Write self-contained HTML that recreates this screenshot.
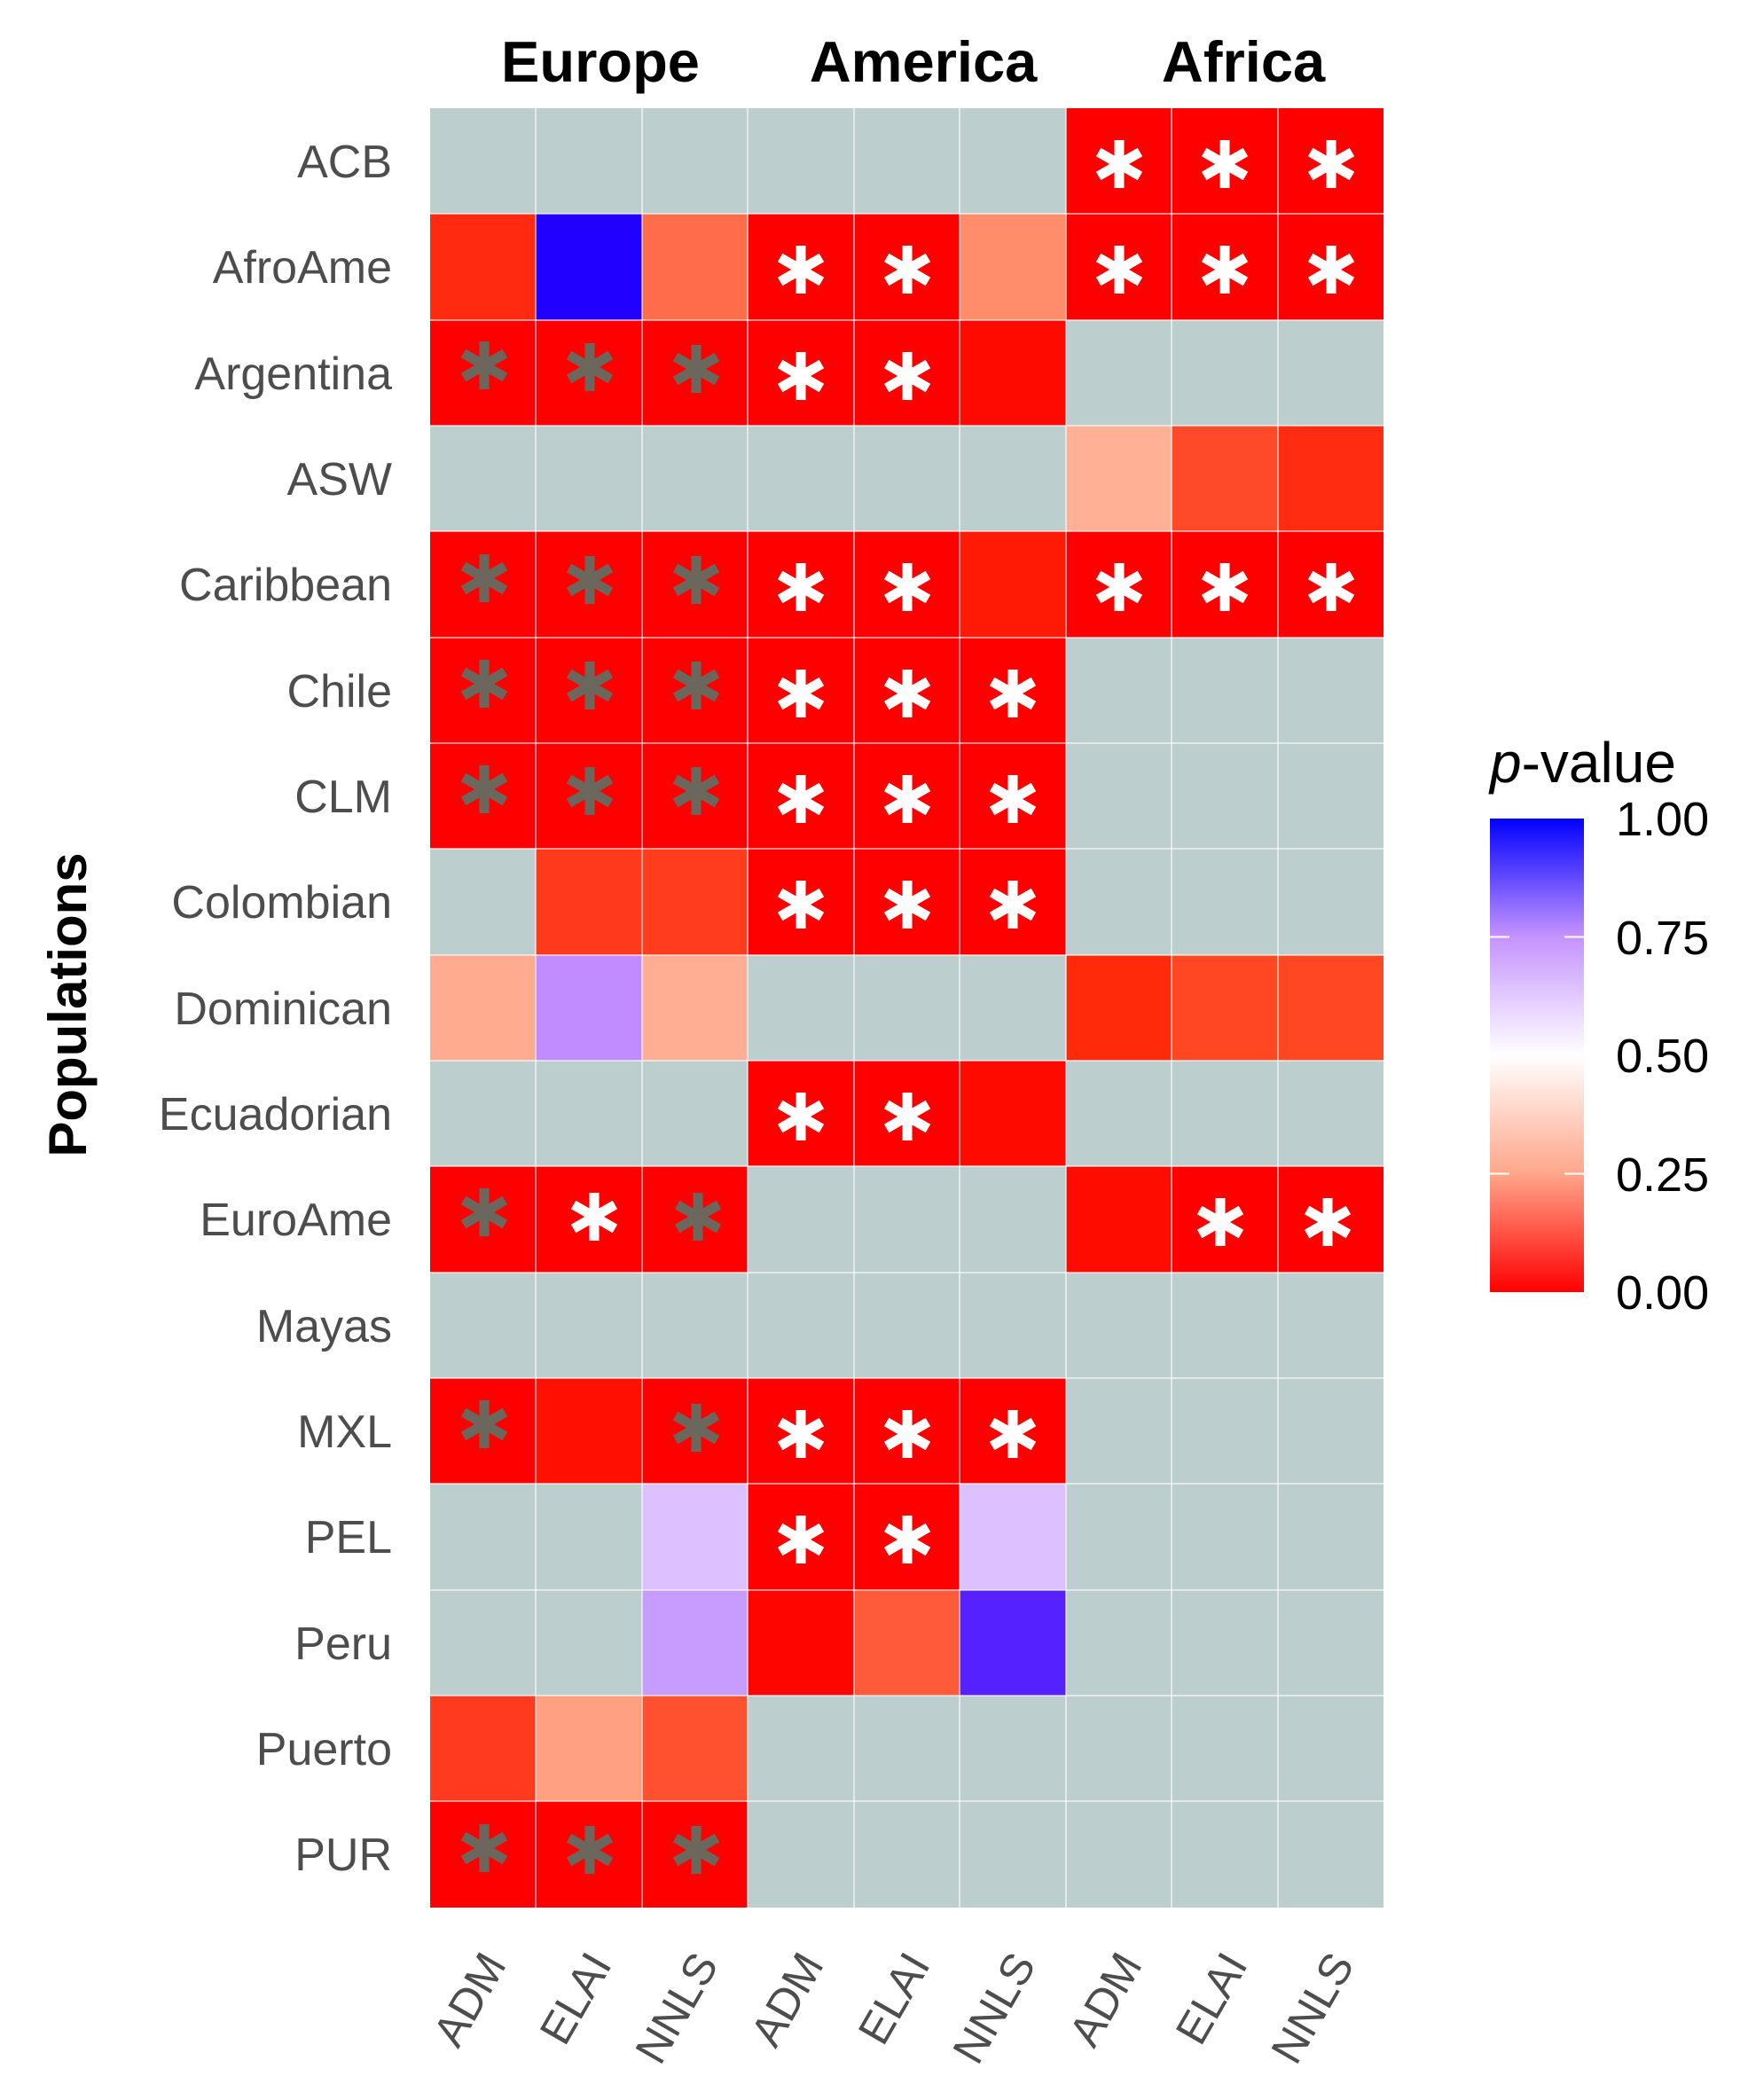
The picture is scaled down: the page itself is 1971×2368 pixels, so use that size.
<!DOCTYPE html>
<html><head><meta charset="utf-8"><style>html,body{margin:0;padding:0;background:#fff;}svg{display:block;}</style></head>
<body>
<svg width="1971" height="2368" viewBox="0 0 1971 2368" xmlns="http://www.w3.org/2000/svg">
<defs>
<g id="aw" stroke="#fff" stroke-width="11"><line x1="0" y1="-27" x2="0" y2="27"/><line x1="-23.4" y1="-13.5" x2="23.4" y2="13.5"/><line x1="-23.4" y1="13.5" x2="23.4" y2="-13.5"/></g>
<g id="ag" stroke="#6c675c" stroke-width="11"><line x1="0" y1="-27" x2="0" y2="27"/><line x1="-23.4" y1="-13.5" x2="23.4" y2="13.5"/><line x1="-23.4" y1="13.5" x2="23.4" y2="-13.5"/></g>
<linearGradient id="lg" x1="0" y1="0" x2="0" y2="1">
<stop offset="0" stop-color="#0000ff"/><stop offset="0.25" stop-color="#c593ff"/><stop offset="0.5" stop-color="#ffffff"/><stop offset="0.75" stop-color="#ffa68a"/><stop offset="1" stop-color="#ff0000"/>
</linearGradient>
</defs>
<rect x="485" y="122" width="1075" height="2029" fill="#bccece"/>
<g>
<rect x="1202" y="122" width="358" height="119" fill="#ff0000"/>
<rect x="485" y="241" width="119" height="120" fill="#ff2a10"/>
<rect x="604" y="241" width="120" height="120" fill="#2200ff"/>
<rect x="724" y="241" width="119" height="120" fill="#ff6d4a"/>
<rect x="843" y="241" width="239" height="120" fill="#ff0000"/>
<rect x="1082" y="241" width="120" height="120" fill="#ff8d6c"/>
<rect x="1202" y="241" width="358" height="120" fill="#ff0000"/>
<rect x="485" y="361" width="597" height="119" fill="#ff0000"/>
<rect x="1082" y="361" width="120" height="119" fill="#ff0a00"/>
<rect x="1202" y="480" width="119" height="119" fill="#ffb095"/>
<rect x="1321" y="480" width="120" height="119" fill="#ff4a2a"/>
<rect x="1441" y="480" width="119" height="119" fill="#ff2c12"/>
<rect x="485" y="599" width="1075" height="120" fill="#ff0000"/>
<rect x="1082" y="599" width="120" height="120" fill="#ff1a05"/>
<rect x="485" y="719" width="717" height="238" fill="#ff0000"/>
<rect x="604" y="957" width="120" height="120" fill="#ff3a1c"/>
<rect x="724" y="957" width="119" height="120" fill="#ff3c1e"/>
<rect x="843" y="957" width="359" height="120" fill="#ff0000"/>
<rect x="485" y="1077" width="119" height="119" fill="#ffab90"/>
<rect x="604" y="1077" width="120" height="119" fill="#c08cff"/>
<rect x="724" y="1077" width="119" height="119" fill="#ffae94"/>
<rect x="1202" y="1077" width="119" height="119" fill="#ff2a0a"/>
<rect x="1321" y="1077" width="239" height="119" fill="#ff4822"/>
<rect x="843" y="1196" width="239" height="119" fill="#ff0000"/>
<rect x="1082" y="1196" width="120" height="119" fill="#ff0a00"/>
<rect x="485" y="1315" width="358" height="120" fill="#ff0000"/>
<rect x="1202" y="1315" width="119" height="120" fill="#ff0c00"/>
<rect x="1321" y="1315" width="239" height="120" fill="#ff0000"/>
<rect x="485" y="1554" width="717" height="119" fill="#ff0000"/>
<rect x="604" y="1554" width="120" height="119" fill="#ff1000"/>
<rect x="724" y="1673" width="119" height="120" fill="#dcc0ff"/>
<rect x="843" y="1673" width="239" height="120" fill="#ff0000"/>
<rect x="1082" y="1673" width="120" height="120" fill="#dcc0ff"/>
<rect x="724" y="1793" width="119" height="119" fill="#c69cff"/>
<rect x="843" y="1793" width="120" height="119" fill="#ff0500"/>
<rect x="963" y="1793" width="119" height="119" fill="#ff5a3a"/>
<rect x="1082" y="1793" width="120" height="119" fill="#5522ff"/>
<rect x="485" y="1912" width="119" height="119" fill="#ff3a1e"/>
<rect x="604" y="1912" width="120" height="119" fill="#ffa080"/>
<rect x="724" y="1912" width="119" height="119" fill="#ff5030"/>
<rect x="485" y="2031" width="358" height="120" fill="#ff0000"/>
</g>
<g stroke="#ffffff" stroke-opacity="0.55" stroke-width="2">
<line x1="604" y1="122" x2="604" y2="2151"/><line x1="724" y1="122" x2="724" y2="2151"/><line x1="843" y1="122" x2="843" y2="2151"/><line x1="963" y1="122" x2="963" y2="2151"/><line x1="1082" y1="122" x2="1082" y2="2151"/><line x1="1202" y1="122" x2="1202" y2="2151"/><line x1="1321" y1="122" x2="1321" y2="2151"/><line x1="1441" y1="122" x2="1441" y2="2151"/>
<line x1="485" y1="241" x2="1560" y2="241"/><line x1="485" y1="361" x2="1560" y2="361"/><line x1="485" y1="480" x2="1560" y2="480"/><line x1="485" y1="599" x2="1560" y2="599"/><line x1="485" y1="719" x2="1560" y2="719"/><line x1="485" y1="838" x2="1560" y2="838"/><line x1="485" y1="957" x2="1560" y2="957"/><line x1="485" y1="1077" x2="1560" y2="1077"/><line x1="485" y1="1196" x2="1560" y2="1196"/><line x1="485" y1="1315" x2="1560" y2="1315"/><line x1="485" y1="1435" x2="1560" y2="1435"/><line x1="485" y1="1554" x2="1560" y2="1554"/><line x1="485" y1="1673" x2="1560" y2="1673"/><line x1="485" y1="1793" x2="1560" y2="1793"/><line x1="485" y1="1912" x2="1560" y2="1912"/><line x1="485" y1="2031" x2="1560" y2="2031"/>
</g>
<g>
<use href="#aw" x="1262" y="185"/><use href="#aw" x="1381" y="185"/><use href="#aw" x="1501" y="185"/>
<use href="#aw" x="903" y="304"/><use href="#aw" x="1023" y="304"/><use href="#aw" x="1262" y="304"/><use href="#aw" x="1381" y="304"/><use href="#aw" x="1501" y="304"/>
<use href="#ag" x="546" y="412"/><use href="#ag" x="665" y="414"/><use href="#ag" x="785" y="416"/><use href="#aw" x="903" y="424"/><use href="#aw" x="1023" y="424"/>
<use href="#ag" x="546" y="652"/><use href="#ag" x="665" y="654"/><use href="#ag" x="785" y="654"/><use href="#aw" x="903" y="662"/><use href="#aw" x="1023" y="662"/><use href="#aw" x="1262" y="662"/><use href="#aw" x="1381" y="662"/><use href="#aw" x="1501" y="662"/>
<use href="#ag" x="546" y="771"/><use href="#ag" x="665" y="773"/><use href="#ag" x="785" y="773"/><use href="#aw" x="903" y="782"/><use href="#aw" x="1023" y="782"/><use href="#aw" x="1142" y="782"/>
<use href="#ag" x="546" y="890"/><use href="#ag" x="665" y="892"/><use href="#ag" x="785" y="892"/><use href="#aw" x="903" y="901"/><use href="#aw" x="1023" y="901"/><use href="#aw" x="1142" y="901"/>
<use href="#aw" x="903" y="1020"/><use href="#aw" x="1023" y="1020"/><use href="#aw" x="1142" y="1020"/>
<use href="#aw" x="903" y="1259"/><use href="#aw" x="1023" y="1259"/>
<use href="#ag" x="546" y="1367"/><use href="#aw" x="670" y="1372"/><use href="#ag" x="787" y="1372"/><use href="#aw" x="1376" y="1378"/><use href="#aw" x="1497" y="1378"/>
<use href="#ag" x="546" y="1606"/><use href="#ag" x="785" y="1610"/><use href="#aw" x="903" y="1617"/><use href="#aw" x="1023" y="1617"/><use href="#aw" x="1142" y="1617"/>
<use href="#aw" x="903" y="1736"/><use href="#aw" x="1023" y="1736"/>
<use href="#ag" x="546" y="2084"/><use href="#ag" x="665" y="2086"/><use href="#ag" x="785" y="2086"/>
</g>
<g font-family="Liberation Sans, sans-serif" font-weight="bold" font-size="65" fill="#000" text-anchor="middle">
<text x="677" y="92">Europe</text><text x="1041" y="92">America</text><text x="1402" y="92">Africa</text>
</g>
<g font-family="Liberation Sans, sans-serif" font-size="52" fill="#4d4d4d" text-anchor="end">
<text x="442" y="200">ACB</text><text x="442" y="319">AfroAme</text><text x="442" y="439">Argentina</text><text x="442" y="558">ASW</text><text x="442" y="677">Caribbean</text><text x="442" y="797">Chile</text><text x="442" y="916">CLM</text><text x="442" y="1035">Colombian</text><text x="442" y="1155">Dominican</text><text x="442" y="1274">Ecuadorian</text><text x="442" y="1393">EuroAme</text><text x="442" y="1513">Mayas</text><text x="442" y="1632">MXL</text><text x="442" y="1751">PEL</text><text x="442" y="1871">Peru</text><text x="442" y="1990">Puerto</text><text x="442" y="2109">PUR</text>
</g>
<text transform="translate(97,1133) rotate(-90)" font-family="Liberation Sans, sans-serif" font-weight="bold" font-size="60" text-anchor="middle" fill="#000">Populations</text>
<g font-family="Liberation Sans, sans-serif" font-size="50" fill="#4d4d4d" text-anchor="end">
<text transform="translate(572,2215) rotate(-60)">ADM</text>
<text transform="translate(691,2215) rotate(-60)">ELAI</text>
<text transform="translate(811,2215) rotate(-60)">NNLS</text>
<text transform="translate(930,2215) rotate(-60)">ADM</text>
<text transform="translate(1050,2215) rotate(-60)">ELAI</text>
<text transform="translate(1169,2215) rotate(-60)">NNLS</text>
<text transform="translate(1289,2215) rotate(-60)">ADM</text>
<text transform="translate(1408,2215) rotate(-60)">ELAI</text>
<text transform="translate(1528,2215) rotate(-60)">NNLS</text>
</g>
<text x="1680" y="882" font-family="Liberation Sans, sans-serif" font-size="64" fill="#000"><tspan font-style="italic">p</tspan>-value</text>
<rect x="1680" y="923" width="106" height="534" fill="url(#lg)"/>
<g stroke="#fff" stroke-width="2">
<line x1="1680" y1="1056.5" x2="1702" y2="1056.5"/><line x1="1764" y1="1056.5" x2="1786" y2="1056.5"/>
<line x1="1680" y1="1323.5" x2="1702" y2="1323.5"/><line x1="1764" y1="1323.5" x2="1786" y2="1323.5"/>
</g>
<g font-family="Liberation Sans, sans-serif" font-size="54" fill="#000">
<text x="1822" y="942">1.00</text><text x="1822" y="1076">0.75</text><text x="1822" y="1209">0.50</text><text x="1822" y="1343">0.25</text><text x="1822" y="1476">0.00</text>
</g>
</svg>
</body></html>
